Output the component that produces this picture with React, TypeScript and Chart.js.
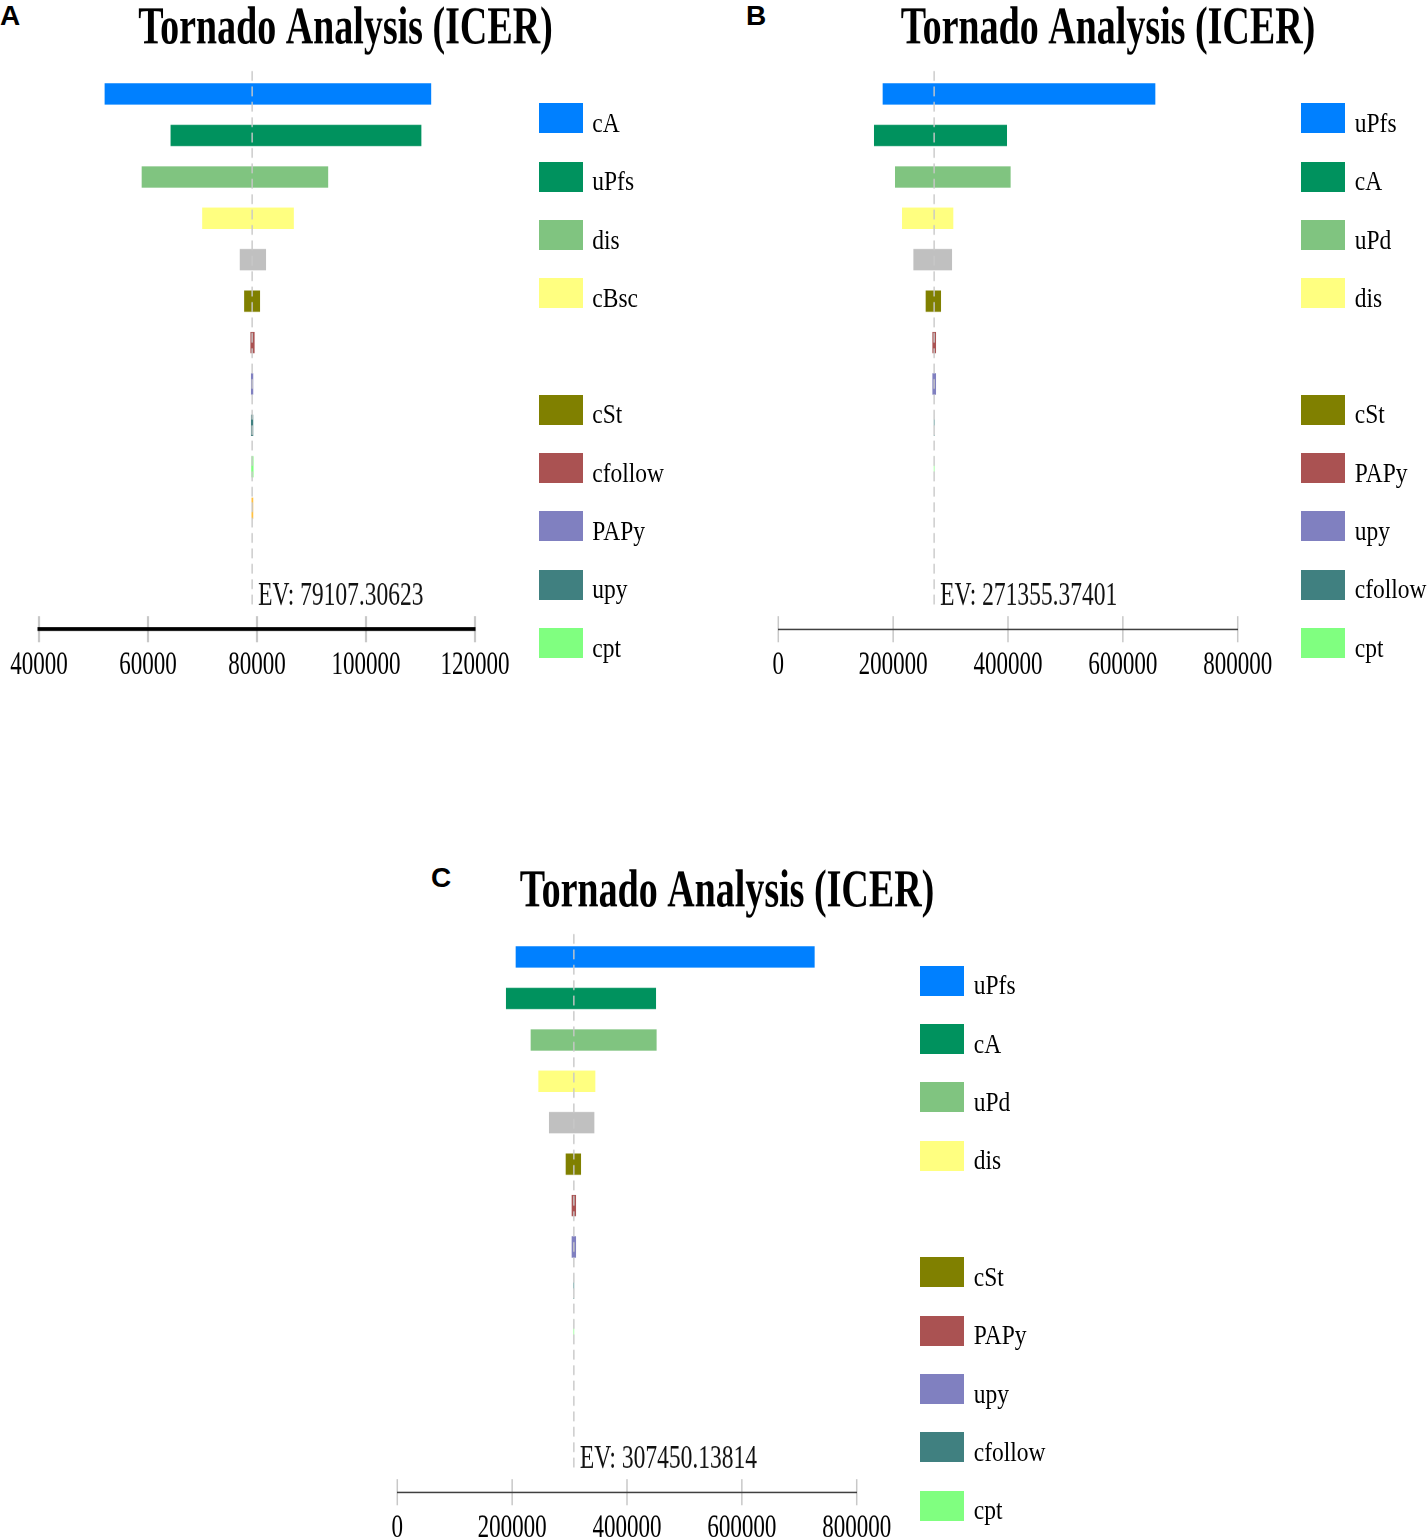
import React, { useEffect, useRef } from "react";
import { Chart, registerables } from "chart.js";

Chart.register(...registerables);

// ---------- data ----------
const COLORS = [
  "#0080ff", "#00925e", "#80c480", "#ffff80", "#c0c0c0", "#808000",
  "#aa5252", "#8080c0", "#408080", "#80ff80", "#ffc040",
];

const TITLE = "Tornado Analysis (ICER)";

// Panel A
const paramsA = ["cA", "uPfs", "dis", "cBsc", "", "cSt", "cfollow", "PAPy", "upy", "cpt", ""];
const lowA = [52100, 64200, 58900, 70000, 76900, 77700, 78850, 78950, 78950, 79000, 79050];
const highA = [111900, 110100, 93000, 86700, 81600, 80500, 79500, 79250, 79250, 79300, 79250];
const evA = 79107.30623;
const ticksA = [40000, 60000, 80000, 100000, 120000];

// Panel B
const paramsB = ["uPfs", "cA", "uPd", "dis", "", "cSt", "PAPy", "upy", "cfollow", "cpt"];
const lowB = [182300, 167200, 203800, 216000, 235800, 257200, 268900, 268900, 271355, 271355];
const highB = [656000, 397700, 404000, 304200, 302000, 282800, 274100, 274100, 271355, 271355];
const evB = 271355.37401;
const ticksB = [0, 200000, 400000, 600000, 800000];

// Panel C
const paramsC = ["uPfs", "cA", "uPd", "dis", "", "cSt", "PAPy", "upy", "cfollow", "cpt"];
const lowC = [206700, 189800, 232800, 246200, 264700, 293800, 304200, 304200, 307450, 307450];
const highC = [726200, 450000, 451000, 344300, 342600, 319400, 310700, 310700, 307450, 307450];
const evC = 307450.13814;
const ticksC = [0, 200000, 400000, 600000, 800000];

// ---------- layout constants ----------
const STRETCH = 1.4;
const LOGICAL_H = 488;
const X_AXIS_H = 38.6;
const Y_MIN = -0.556;
const Y_MAX = 12.92;
const SERIF = "'Liberation Serif', 'Times New Roman', serif";

type PanelProps = {
  letter: string;
  letterLeft: number;
  top: number;
  canvasLeft: number;
  width: number;
  leftW: number;
  rightW: number;
  legendLeft: number;
  params: string[];
  low: number[];
  high: number[];
  ev: number;
  ticks: number[];
  axisColor: string;
  axisWidth: number;
  tickMarkWidth: number;
};

function TornadoChart(p: PanelProps) {
  const ref = useRef<HTMLCanvasElement | null>(null);

  useEffect(() => {
    if (!ref.current) return;
    const ev = p.ev;
    const overlay = {
      id: "overlay",
      beforeDraw(chart: any) {
        const { ctx, chartArea, scales } = chart;
        const x = scales.x;
        ctx.save();
        ctx.strokeStyle = "#c8c8c8";
        ctx.lineWidth = p.tickMarkWidth;
        x.ticks.forEach((t: any) => {
          const tx = x.getPixelForValue(t.value);
          ctx.beginPath();
          ctx.moveTo(tx, chartArea.bottom - 9.3);
          ctx.lineTo(tx, chartArea.bottom + 9.3);
          ctx.stroke();
        });
        ctx.restore();
      },
      afterDatasetsDraw(chart: any) {
        const { ctx, chartArea, scales } = chart;
        const x = scales.x;
        const px = x.getPixelForValue(ev);
        ctx.save();
        ctx.strokeStyle = "#c8c8c8";
        ctx.lineWidth = 1.4;
        ctx.setLineDash([7, 4]);
        ctx.beginPath();
        ctx.moveTo(px, chartArea.top);
        ctx.lineTo(px, chartArea.bottom - 15);
        ctx.stroke();
        ctx.setLineDash([]);
        ctx.fillStyle = "#111";
        ctx.font = `23.5px ${SERIF}`;
        ctx.textBaseline = "alphabetic";
        ctx.textAlign = "left";
        ctx.fillText("EV: " + ev.toFixed(5), px + 6, chartArea.bottom - 17.2);
        ctx.restore();
      },
    };

    const chart = new Chart(ref.current, {
      type: "bar",
      data: {
        datasets: [
          {
            data: p.params.map((_, i) => ({ x: [p.low[i], p.high[i]], y: i })) as any,
            backgroundColor: p.params.map((_, i) => COLORS[i]),
            borderWidth: 0,
            barThickness: 14.6,
            xAxisID: "x",
            yAxisID: "y",
          },
        ],
      },
      options: {
        indexAxis: "y",
        animation: false,
        responsive: false,
        devicePixelRatio: 2,
        events: [],
        layout: { padding: 0 },
        plugins: {
          legend: { display: false },
          tooltip: { enabled: false },
          title: {
            display: true,
            text: TITLE,
            color: "#000",
            font: { family: SERIF, size: 38, weight: "bold", lineHeight: 1 },
            padding: { top: 2, bottom: 10.7 },
          },
        },
        scales: {
          x: {
            type: "linear",
            position: "bottom",
            min: p.ticks[0],
            max: p.ticks[p.ticks.length - 1],
            afterBuildTicks: (s: any) => {
              s.ticks = p.ticks.map((v) => ({ value: v }));
            },
            afterFit: (s: any) => {
              s.height = X_AXIS_H;
            },
            grid: { display: false, drawTicks: false },
            border: { display: true, color: p.axisColor, width: p.axisWidth },
            ticks: {
              padding: 9,
              color: "#000",
              autoSkip: false,
              maxRotation: 0,
              font: { family: SERIF, size: 23, lineHeight: 1.5 },
              callback: (v: any) => String(v),
            },
          },
          y: {
            type: "linear",
            position: "left",
            reverse: true,
            offset: false,
            min: Y_MIN,
            max: Y_MAX,
            ticks: { display: false },
            grid: { display: false, drawTicks: false },
            border: { display: false },
            afterFit: (s: any) => {
              s.width = p.leftW;
            },
          },
          yR: {
            type: "linear",
            position: "right",
            ticks: { display: false },
            grid: { display: false, drawTicks: false },
            border: { display: false },
            afterFit: (s: any) => {
              s.width = p.rightW;
            },
          },
        },
      } as any,
      plugins: [overlay],
    });
    return () => chart.destroy();
  }, []);

  const legendNames = p.params.slice(0, 10);

  return (
    <>
      <div
        style={{
          position: "absolute",
          left: p.letterLeft,
          top: p.top + 1.5,
          fontFamily: "'Liberation Sans', Arial, sans-serif",
          fontWeight: "bold",
          fontSize: 28,
          lineHeight: "28px",
          color: "#000",
        }}
      >
        {p.letter}
      </div>
      <div
        style={{
          position: "absolute",
          left: p.canvasLeft,
          top: p.top,
          width: p.width,
          height: LOGICAL_H,
          transform: `scaleY(${STRETCH})`,
          transformOrigin: "0 0",
        }}
      >
        <canvas ref={ref} width={p.width} height={LOGICAL_H} />
      </div>
      {legendNames.map((name, i) => {
        if (!name) return null;
        const cy = p.top + 118.3 + i * 58.3;
        const baseline = cy + 13.8;
        return (
          <React.Fragment key={i}>
            <div
              style={{
                position: "absolute",
                left: p.legendLeft,
                top: cy - 15,
                width: 44,
                height: 30,
                background: COLORS[i],
              }}
            />
            <div
              style={{
                position: "absolute",
                left: p.legendLeft + 53.8,
                top: baseline - 19.2,
                fontFamily: SERIF,
                fontSize: 23.5,
                lineHeight: "23px",
                color: "#000",
                whiteSpace: "nowrap",
                transform: "scaleY(1.12)",
                transformOrigin: "0 19.2px",
              }}
            >
              {name}
            </div>
          </React.Fragment>
        );
      })}
    </>
  );
}

export default function App() {
  return (
    <div
      style={{
        position: "absolute",
        left: 0,
        top: 0,
        width: 1427,
        height: 1537,
        overflow: "hidden",
        background: "#fff",
      }}
    >
      <TornadoChart
        letter="A"
        letterLeft={0}
        top={0}
        canvasLeft={0}
        width={691}
        leftW={39}
        rightW={216}
        legendLeft={538.5}
        params={paramsA}
        low={lowA}
        high={highA}
        ev={evA}
        ticks={ticksA}
        axisColor="#000"
        axisWidth={2.6}
        tickMarkWidth={2.2}
      />
      <TornadoChart
        letter="B"
        letterLeft={746}
        top={0}
        canvasLeft={740}
        width={736}
        leftW={38.3}
        rightW={238.3}
        legendLeft={1301}
        params={paramsB}
        low={lowB}
        high={highB}
        ev={evB}
        ticks={ticksB}
        axisColor="#404040"
        axisWidth={1.1}
        tickMarkWidth={1.5}
      />
      <TornadoChart
        letter="C"
        letterLeft={431}
        top={862.5}
        canvasLeft={360}
        width={734}
        leftW={37.3}
        rightW={237.3}
        legendLeft={920}
        params={paramsC}
        low={lowC}
        high={highC}
        ev={evC}
        ticks={ticksC}
        axisColor="#404040"
        axisWidth={1.1}
        tickMarkWidth={1.5}
      />
    </div>
  );
}
